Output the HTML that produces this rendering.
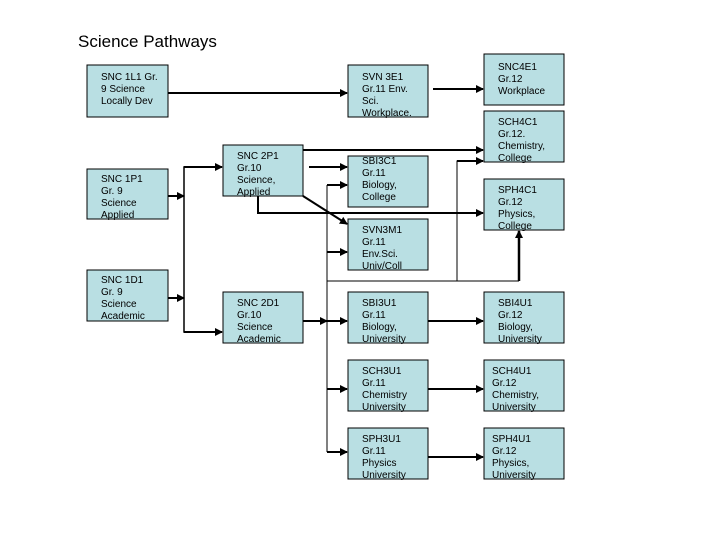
<!DOCTYPE html>
<html><head><meta charset="utf-8"><style>
body{margin:0;background:#fff;width:720px;height:540px;overflow:hidden}
svg{display:block}
text{font-family:"Liberation Sans",Arial,sans-serif;font-size:10px;fill:#000}
rect{fill:#b9dfe3;stroke:#000;stroke-width:1}
</style></head><body>
<svg width="720" height="540" viewBox="0 0 720 540">
<defs><marker id="a" markerWidth="8" markerHeight="8" refX="7" refY="4" orient="auto" markerUnits="userSpaceOnUse"><path d="M0,0 L8,4 L0,8 z" fill="#000"/></marker></defs>
<text x="78" y="47" style="font-size:17px">Science Pathways</text>
<g fill="none" stroke="#000" stroke-width="2">
<line x1="168" y1="93" x2="347" y2="93" marker-end="url(#a)"/>
<line x1="433" y1="89" x2="483" y2="89" marker-end="url(#a)"/>
<line x1="303" y1="150" x2="483" y2="150" marker-end="url(#a)"/>
<line x1="168" y1="196" x2="184" y2="196" marker-end="url(#a)"/>
<line x1="168" y1="298" x2="184" y2="298" marker-end="url(#a)"/>
<polyline points="222,167 184,167 184,332 222,332" stroke-width="1.5"/>
<line x1="184" y1="167" x2="222" y2="167" marker-end="url(#a)"/>
<line x1="184" y1="332" x2="222" y2="332" marker-end="url(#a)"/>
<line x1="309" y1="167" x2="347" y2="167" marker-end="url(#a)"/>
<line x1="303" y1="196" x2="347" y2="224" marker-end="url(#a)"/>
<polyline points="258,196 258,213 483,213" marker-end="url(#a)"/>
<line x1="303" y1="321" x2="327" y2="321" marker-end="url(#a)"/>
<line x1="428" y1="321" x2="483" y2="321" marker-end="url(#a)"/>
<line x1="428" y1="389" x2="483" y2="389" marker-end="url(#a)"/>
<line x1="428" y1="457" x2="483" y2="457" marker-end="url(#a)"/>
<line x1="519" y1="281" x2="519" y2="231" marker-end="url(#a)" stroke-width="2.5"/>
</g>
<g fill="none" stroke="#000" stroke-width="1">
<line x1="327" y1="185" x2="327" y2="452"/>
<line x1="327" y1="281" x2="519" y2="281"/>
<polyline points="457,281 457,161 470,161"/>
</g>
<g stroke="#000" stroke-width="2">
<line x1="327" y1="185" x2="347" y2="185" marker-end="url(#a)"/>
<line x1="327" y1="252" x2="347" y2="252" marker-end="url(#a)"/>
<line x1="327" y1="321" x2="347" y2="321" marker-end="url(#a)"/>
<line x1="327" y1="389" x2="347" y2="389" marker-end="url(#a)"/>
<line x1="327" y1="452" x2="347" y2="452" marker-end="url(#a)"/>
<line x1="457" y1="161" x2="483" y2="161" marker-end="url(#a)"/>
</g>
<rect x="87" y="65" width="81" height="52"/>
<text x="101" y="80">SNC 1L1 Gr.</text><text x="101" y="92">9 Science</text><text x="101" y="104">Locally Dev</text>
<rect x="348" y="65" width="80" height="52"/>
<text x="362" y="80">SVN 3E1</text><text x="362" y="92">Gr.11 Env.</text><text x="362" y="104">Sci.</text><text x="362" y="116">Workplace.</text>
<rect x="484" y="54" width="80" height="51"/>
<text x="498" y="70">SNC4E1</text><text x="498" y="82">Gr.12</text><text x="498" y="94">Workplace</text>
<rect x="484" y="111" width="80" height="51"/>
<text x="498" y="125">SCH4C1</text><text x="498" y="137">Gr.12.</text><text x="498" y="149">Chemistry,</text><text x="498" y="161">College</text>
<rect x="223" y="145" width="80" height="51"/>
<text x="237" y="159">SNC 2P1</text><text x="237" y="171">Gr.10</text><text x="237" y="183">Science,</text><text x="237" y="195">Applied</text>
<rect x="348" y="156" width="80" height="51"/>
<text x="362" y="164">SBI3C1</text><text x="362" y="176">Gr.11</text><text x="362" y="188">Biology,</text><text x="362" y="200">College</text>
<rect x="484" y="179" width="80" height="51"/>
<text x="498" y="193">SPH4C1</text><text x="498" y="205">Gr.12</text><text x="498" y="217">Physics,</text><text x="498" y="229">College</text>
<rect x="87" y="169" width="81" height="50"/>
<text x="101" y="182">SNC 1P1</text><text x="101" y="194">Gr. 9</text><text x="101" y="206">Science</text><text x="101" y="218">Applied</text>
<rect x="348" y="219" width="80" height="51"/>
<text x="362" y="233">SVN3M1</text><text x="362" y="245">Gr.11</text><text x="362" y="257">Env.Sci.</text><text x="362" y="269">Univ/Coll</text>
<rect x="87" y="270" width="81" height="51"/>
<text x="101" y="283">SNC 1D1</text><text x="101" y="295">Gr. 9</text><text x="101" y="307">Science</text><text x="101" y="319">Academic</text>
<rect x="223" y="292" width="80" height="51"/>
<text x="237" y="306">SNC 2D1</text><text x="237" y="318">Gr.10</text><text x="237" y="330">Science</text><text x="237" y="342">Academic</text>
<rect x="348" y="292" width="80" height="51"/>
<text x="362" y="306">SBI3U1</text><text x="362" y="318">Gr.11</text><text x="362" y="330">Biology,</text><text x="362" y="342">University</text>
<rect x="484" y="292" width="80" height="51"/>
<text x="498" y="306">SBI4U1</text><text x="498" y="318">Gr.12</text><text x="498" y="330">Biology,</text><text x="498" y="342">University</text>
<rect x="348" y="360" width="80" height="51"/>
<text x="362" y="374">SCH3U1</text><text x="362" y="386">Gr.11</text><text x="362" y="398">Chemistry</text><text x="362" y="410">University</text>
<rect x="484" y="360" width="80" height="51"/>
<text x="492" y="374">SCH4U1</text><text x="492" y="386">Gr.12</text><text x="492" y="398">Chemistry,</text><text x="492" y="410">University</text>
<rect x="348" y="428" width="80" height="51"/>
<text x="362" y="442">SPH3U1</text><text x="362" y="454">Gr.11</text><text x="362" y="466">Physics</text><text x="362" y="478">University</text>
<rect x="484" y="428" width="80" height="51"/>
<text x="492" y="442">SPH4U1</text><text x="492" y="454">Gr.12</text><text x="492" y="466">Physics,</text><text x="492" y="478">University</text>
</svg>
</body></html>
